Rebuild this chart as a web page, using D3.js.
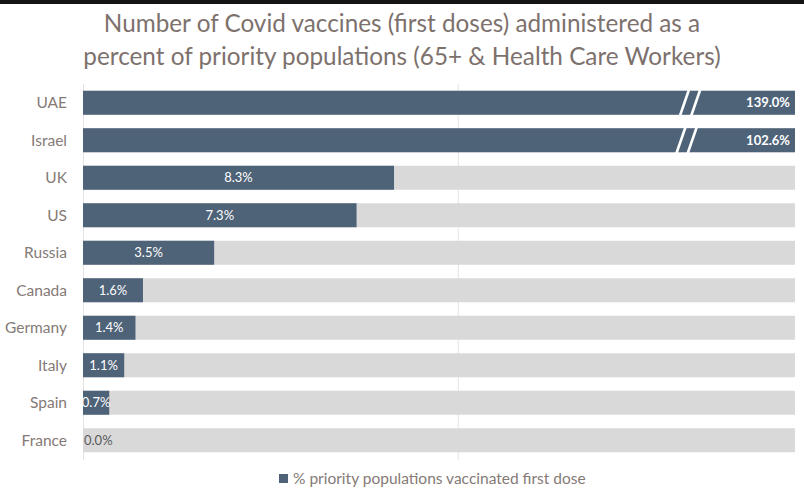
<!DOCTYPE html>
<html>
<head>
<meta charset="utf-8">
<script src="https://d3js.org/d3.v7.min.js"></script>
<style>
  body { margin: 0; background: #fff; }
  svg { display: block; font-family: Lato, "Open Sans", sans-serif; }
</style>
</head>
<body>
<script>
var countries = ["UAE", "Israel", "UK", "US", "Russia", "Canada", "Germany", "Italy", "Spain", "France"];
var firstDosePct = [139.0, 102.6, 8.3, 7.3, 3.5, 1.6, 1.4, 1.1, 0.7, 0.0];
var axisMax = 19;          // the grey "track" behind each bar
var gridTicks = [0, 10];
var titleLines = [
    "Number of Covid vaccines (first doses) administered as a",
    "percent of priority populations (65+ & Health Care Workers)"
];
var legendLabel = "% priority populations vaccinated first dose";

var width = 804, height = 503;
var barColor = "#4e6278", trackColor = "#d9d9d9", textColor = "#857a76";

var svg = d3.select("body").append("svg")
    .attr("width", width)
    .attr("height", height);

// dark strip across the top of the screenshot
svg.append("rect")
    .attr("x", 0).attr("y", 0)
    .attr("width", width).attr("height", 4)
    .attr("fill", "#141414");

var xScale = d3.scaleLinear().domain([0, axisMax]).range([83, 795]);
var yScale = d3.scaleBand().domain(countries).range([84, 459])
    .paddingInner(0.36).paddingOuter(0.18);

var data = countries.map(function(c, i) {
    return {country: c, value: firstDosePct[i]};
});

// title
svg.append("g").selectAll("text")
    .data(titleLines)
    .enter().append("text")
    .attr("x", 402)
    .attr("y", function(d, i) { return 32 + i * 33; })
    .attr("text-anchor", "middle")
    .attr("font-size", 24.3)
    .attr("fill", "#7d716d")
    .text(function(d) { return d; });

// gridlines
svg.append("g").selectAll("line")
    .data(gridTicks)
    .enter().append("line")
    .attr("x1", function(d) { return xScale(d) + 0.5; })
    .attr("x2", function(d) { return xScale(d) + 0.5; })
    .attr("y1", 84)
    .attr("y2", 460)
    .attr("stroke", "#e3e3e3")
    .attr("stroke-width", 1);

// grey tracks
svg.append("g").selectAll("rect")
    .data(data)
    .enter().append("rect")
    .attr("x", xScale(0))
    .attr("y", function(d) { return yScale(d.country); })
    .attr("width", xScale(axisMax) - xScale(0))
    .attr("height", yScale.bandwidth())
    .attr("fill", trackColor);

// value bars, clipped at the axis max
svg.append("g").selectAll("rect")
    .data(data)
    .enter().append("rect")
    .attr("x", xScale(0))
    .attr("y", function(d) { return yScale(d.country); })
    .attr("width", function(d) { return xScale(Math.min(d.value, axisMax)) - xScale(0); })
    .attr("height", yScale.bandwidth())
    .attr("fill", barColor);

// axis break marks on the bars that run off the scale
var broken = data.filter(function(d) { return d.value > axisMax; });
var breakAt = [16.05, 16.35];
broken.forEach(function(d, j) {
    var y0 = yScale(d.country), y1 = y0 + yScale.bandwidth();
    var shift = j * -3.5;
    breakAt.forEach(function(b) {
        var xc = xScale(b) + shift;
        svg.append("line")
            .attr("x1", xc + 4.5).attr("y1", y0 - 1)
            .attr("x2", xc - 4.5).attr("y2", y1 + 1)
            .attr("stroke", "#fff")
            .attr("stroke-width", 2.6);
    });
});

// category labels
svg.append("g").selectAll("text")
    .data(data)
    .enter().append("text")
    .attr("x", 67)
    .attr("y", function(d) { return yScale(d.country) + yScale.bandwidth() / 2; })
    .attr("dy", "0.35em")
    .attr("text-anchor", "end")
    .attr("font-size", 15.5)
    .attr("fill", textColor)
    .text(function(d) { return d.country; });

// value labels
svg.append("g").selectAll("text")
    .data(data)
    .enter().append("text")
    .attr("x", function(d) {
        if (d.value > axisMax) return xScale(axisMax) - 5;
        if (d.value === 0) return xScale(0) + 1;
        return (xScale(0) + xScale(d.value)) / 2;
    })
    .attr("y", function(d) { return yScale(d.country) + yScale.bandwidth() / 2; })
    .attr("dy", "0.36em")
    .attr("text-anchor", function(d) {
        if (d.value > axisMax) return "end";
        if (d.value === 0) return "start";
        return "middle";
    })
    .attr("font-size", 13)
    .attr("font-weight", function(d) { return d.value > axisMax ? "bold" : "normal"; })
    .attr("fill", function(d) { return d.value === 0 ? "#595959" : "#fff"; })
    .text(function(d) { return d.value.toFixed(1) + "%"; });

// legend
var legend = svg.append("g");
legend.append("rect")
    .attr("x", 279).attr("y", 474)
    .attr("width", 9).attr("height", 9)
    .attr("fill", barColor);
legend.append("text")
    .attr("x", 293).attr("y", 484)
    .attr("font-size", 15.5)
    .attr("fill", textColor)
    .text(legendLabel);
</script>
</body>
</html>
